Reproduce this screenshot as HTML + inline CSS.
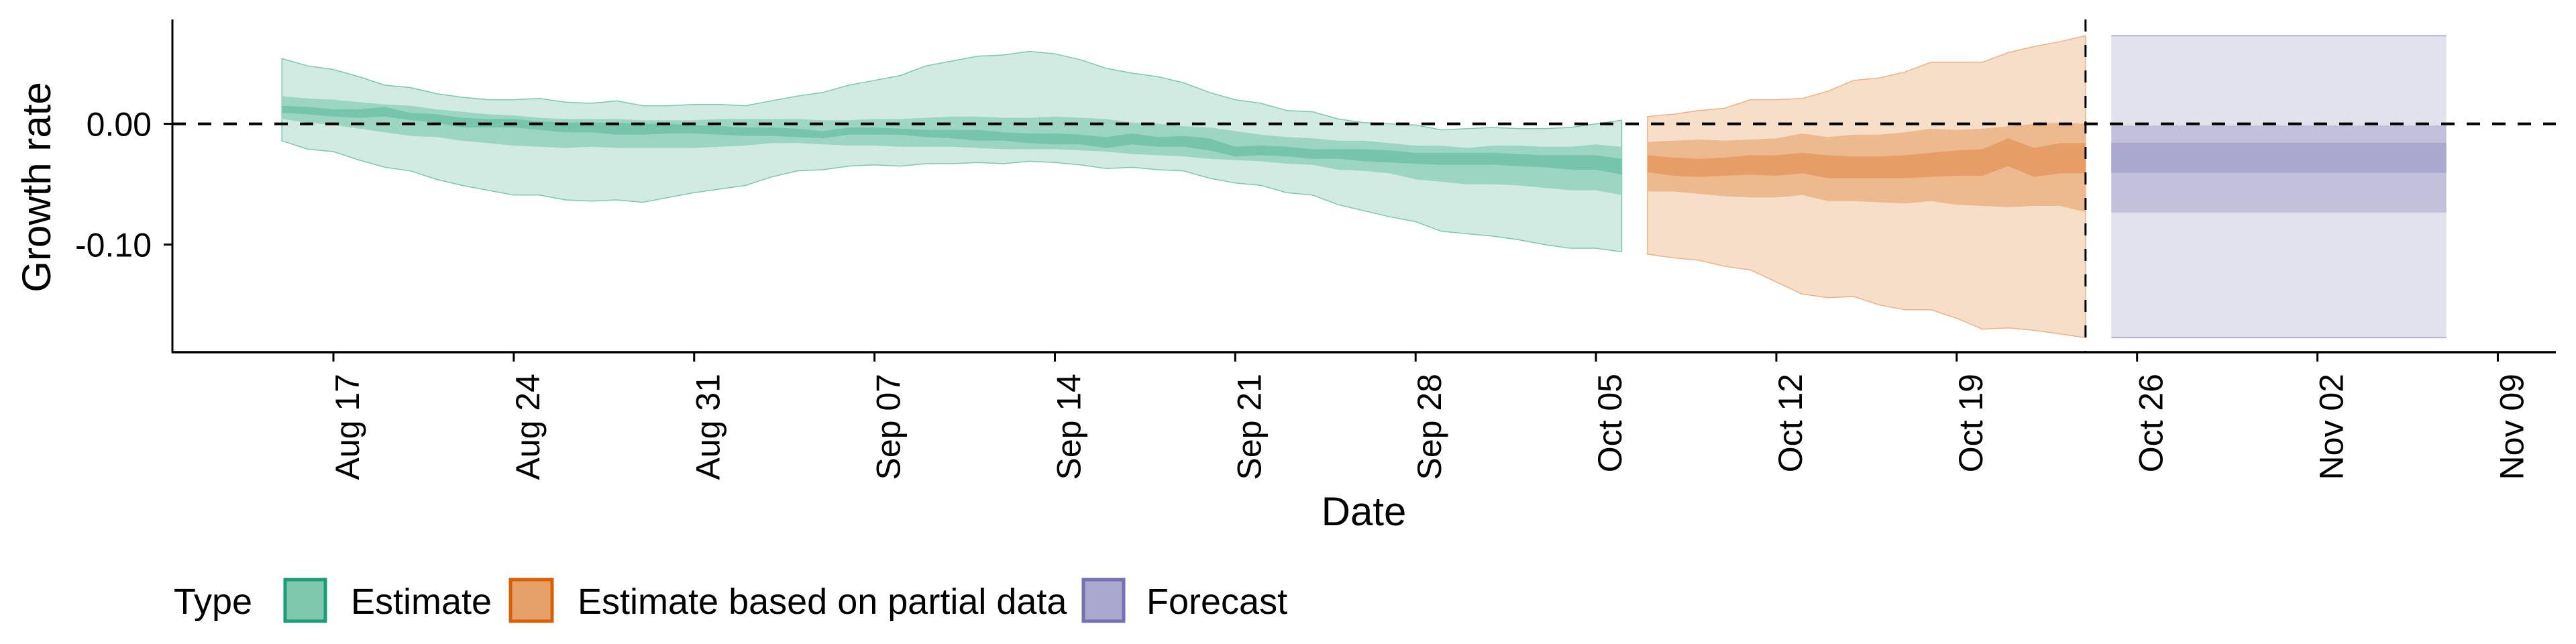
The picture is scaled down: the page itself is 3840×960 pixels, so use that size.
<!DOCTYPE html>
<html><head><meta charset="utf-8"><style>
html,body{margin:0;padding:0;background:#fff;}
svg{display:block;font-family:"Liberation Sans",Arial,sans-serif;}
</style></head><body>
<svg id="chart" width="3840" height="960" viewBox="0 0 3840 960" xmlns="http://www.w3.org/2000/svg">
<g id="bands"></g>
<g id="axes"></g>
</svg>
<script>
// Estimate (green): daily from Aug 15 to Oct 6
const estStart = "2020-08-15";
const estOuterHi = [0.054,0.048,0.045,0.039,0.032,0.030,0.025,0.022,0.020,0.020,0.021,0.018,0.017,0.019,0.015,0.015,0.016,0.016,0.015,0.019,0.023,0.026,0.032,0.036,0.040,0.048,0.052,
0.056,0.057,0.060,0.058,0.053,0.046,0.042,0.039,0.034,0.026,0.020,0.017,0.011,0.010,0.004,0.001,0.000,-0.001,-0.005,-0.004,-0.003,-0.004,-0.004,-0.003,0.000,0.003];
const estOuterLo = [-0.014,-0.021,-0.023,-0.030,-0.036,-0.039,-0.046,-0.051,-0.055,-0.059,-0.059,-0.063,-0.064,-0.063,-0.065,-0.061,-0.057,-0.054,-0.051,-0.044,-0.039,-0.038,-0.035,-0.034,-0.035,-0.033,-0.033,
-0.032,-0.033,-0.031,-0.032,-0.034,-0.037,-0.036,-0.038,-0.039,-0.045,-0.049,-0.051,-0.057,-0.059,-0.067,-0.072,-0.077,-0.081,-0.089,-0.091,-0.093,-0.096,-0.100,-0.103,-0.103,-0.106];
const estMidHi = [0.023,0.021,0.020,0.018,0.016,0.015,0.012,0.010,0.008,0.007,0.005,0.004,0.004,0.004,0.003,0.003,0.003,0.004,0.004,0.004,0.004,0.003,0.003,0.004,0.004,0.005,0.006,
0.006,0.005,0.005,0.006,0.005,0.004,0.001,0.000,-0.002,-0.003,-0.006,-0.009,-0.011,-0.012,-0.014,-0.014,-0.016,-0.018,-0.018,-0.020,-0.018,-0.018,-0.019,-0.019,-0.017,-0.019];
const estMidLo = [0.004,0.001,-0.001,-0.004,-0.007,-0.010,-0.011,-0.014,-0.016,-0.018,-0.019,-0.020,-0.019,-0.020,-0.020,-0.020,-0.020,-0.019,-0.018,-0.016,-0.016,-0.017,-0.018,-0.018,-0.019,-0.019,-0.019,
-0.020,-0.021,-0.021,-0.021,-0.022,-0.023,-0.025,-0.026,-0.027,-0.029,-0.030,-0.031,-0.033,-0.034,-0.038,-0.039,-0.041,-0.046,-0.048,-0.050,-0.050,-0.051,-0.053,-0.055,-0.055,-0.059];
const estInHi = [0.015,0.014,0.012,0.012,0.014,0.009,0.008,0.005,0.004,0.004,0.002,0.001,0.001,0.001,0.000,0.000,-0.001,-0.002,-0.003,-0.003,-0.004,-0.006,-0.003,-0.003,-0.004,-0.005,-0.005,
-0.005,-0.007,-0.008,-0.008,-0.009,-0.011,-0.008,-0.011,-0.010,-0.012,-0.019,-0.018,-0.019,-0.021,-0.021,-0.021,-0.022,-0.024,-0.024,-0.024,-0.024,-0.025,-0.026,-0.026,-0.026,-0.029];
const estInLo = [0.009,0.008,0.006,0.005,0.006,0.003,0.001,-0.003,-0.003,-0.003,-0.005,-0.007,-0.007,-0.009,-0.009,-0.008,-0.008,-0.009,-0.010,-0.010,-0.011,-0.012,-0.009,-0.009,-0.009,-0.011,-0.012,
-0.014,-0.014,-0.016,-0.017,-0.017,-0.020,-0.017,-0.019,-0.019,-0.022,-0.027,-0.026,-0.027,-0.029,-0.029,-0.031,-0.032,-0.033,-0.034,-0.034,-0.034,-0.035,-0.036,-0.038,-0.038,-0.042];
// Estimate based on partial data (orange): Oct 7 to Oct 24
const partStart = "2020-10-07";
const partOuterHi = [0.006,0.008,0.011,0.013,0.020,0.020,0.021,0.027,0.036,0.038,0.043,0.051,0.051,0.051,0.059,0.064,0.068,0.073];
const partOuterLo = [-0.108,-0.111,-0.113,-0.118,-0.121,-0.131,-0.141,-0.144,-0.143,-0.150,-0.154,-0.154,-0.161,-0.170,-0.169,-0.171,-0.174,-0.177];
const partMidHi = [-0.015,-0.014,-0.013,-0.014,-0.013,-0.012,-0.008,-0.011,-0.009,-0.009,-0.007,-0.004,-0.005,-0.004,-0.002,0.000,0.001,0.000];
const partMidLo = [-0.056,-0.056,-0.058,-0.060,-0.061,-0.061,-0.059,-0.064,-0.064,-0.065,-0.066,-0.064,-0.067,-0.068,-0.069,-0.068,-0.068,-0.073];
const partInHi = [-0.026,-0.028,-0.029,-0.028,-0.026,-0.026,-0.024,-0.026,-0.027,-0.027,-0.026,-0.024,-0.022,-0.021,-0.012,-0.020,-0.016,-0.016];
const partInLo = [-0.040,-0.043,-0.044,-0.043,-0.042,-0.043,-0.041,-0.045,-0.045,-0.045,-0.045,-0.044,-0.043,-0.043,-0.035,-0.044,-0.041,-0.041];
// Forecast (purple): Oct 25 to Nov 7
const fcStart = "2020-10-25";
const fcEnd = "2020-11-07";
const fcOuter = [-0.177, 0.073];
const fcMid = [-0.0735, -0.0014];
const fcInner = [-0.0405, -0.0157];
// Axes
const xTickLabels = ["Aug 17","Aug 24","Aug 31","Sep 07","Sep 14","Sep 21","Sep 28","Oct 05","Oct 12","Oct 19","Oct 26","Nov 02","Nov 09"];
const xTickDates = ["2020-08-17","2020-08-24","2020-08-31","2020-09-07","2020-09-14","2020-09-21","2020-09-28","2020-10-05","2020-10-12","2020-10-19","2020-10-26","2020-11-02","2020-11-09"];
const yTicks = [0.00, -0.10];
const yTickLabels = ["0.00","-0.10"];
const forecastDate = "2020-10-24";

const NS = "http://www.w3.org/2000/svg";
const DAY = 86400000;
const x0Date = Date.parse("2020-08-17"), x0Px = 497, pxPerDay = 38.41;
function xs(dateStr){ return x0Px + (Date.parse(dateStr) - x0Date)/DAY*pxPerDay; }
function xd(startStr, i){ return xs(startStr) + i*pxPerDay; }
function ys(v){ return 184.6 - v*1800; }
function mk(tag, attrs, parent){
  const e = document.createElementNS(NS, tag);
  for (const k in attrs) e.setAttribute(k, attrs[k]);
  parent.appendChild(e); return e;
}
const bands = document.getElementById("bands");
const axes = document.getElementById("axes");
function ribbon(start, lo, hi, fill, stroke, name){
  let d = "";
  for (let i=0;i<hi.length;i++) d += (i?"L":"M") + xd(start,i).toFixed(1) + "," + ys(hi[i]).toFixed(1);
  for (let i=lo.length-1;i>=0;i--) d += "L" + xd(start,i).toFixed(1) + "," + ys(lo[i]).toFixed(1);
  d += "Z";
  const p = mk("path", {d: d, fill: fill, stroke: stroke || "none", "stroke-width": stroke ? 1.5 : 0}, bands);
  
  
}
ribbon(estStart, estOuterLo, estOuterHi, "#d1ebe2", "#7cc8b0", "estimate-outer-band");
ribbon(estStart, estMidLo, estMidHi, "#9dd5c3", null, "estimate-mid-band");
ribbon(estStart, estInLo, estInHi, "#75c4ab", null, "estimate-inner-band");
ribbon(partStart, partOuterLo, partOuterHi, "#f6dec8", "#eeb28a", "partial-outer-band");
ribbon(partStart, partMidLo, partMidHi, "#edb98e", null, "partial-mid-band");
ribbon(partStart, partInLo, partInHi, "#e69d66", null, "partial-inner-band");
function rectBand(lohi, fill, stroke, name){
  const x1 = xs(fcStart), x2 = xs(fcEnd);
  const r = mk("rect", {x: x1, y: ys(lohi[1]), width: x2-x1, height: ys(lohi[0])-ys(lohi[1]), fill: fill}, bands);
  
  
  if (stroke){
    const a = mk("line", {x1:x1, x2:x2, y1:ys(lohi[1]), y2:ys(lohi[1]), stroke:stroke, "stroke-width":2}, bands);
    
    
    const b = mk("line", {x1:x1, x2:x2, y1:ys(lohi[0]), y2:ys(lohi[0]), stroke:stroke, "stroke-width":2}, bands);
    
    
  }
}
rectBand(fcOuter, "#e2e2ee", "#b4b2d8", "forecast-outer-band");
rectBand(fcMid, "#c3c0dc", null, "forecast-mid-band");
rectBand(fcInner, "#aaa8ce", null, "forecast-inner-band");

// zero line
const zl = mk("line", {x1:257, x2:3810, y1:ys(0), y2:ys(0), stroke:"#000", "stroke-width":4, "stroke-dasharray":"20 18"}, axes);


// forecast date line
const fx = xs(forecastDate);
const vl = mk("line", {x1:fx, x2:fx, y1:29, y2:525, stroke:"#000", "stroke-width":3, "stroke-dasharray":"18 20"}, axes);


// axis lines
const ya = mk("line", {x1:257, x2:257, y1:29, y2:526, stroke:"#000", "stroke-width":3}, axes);


const xa = mk("line", {x1:256, x2:3810, y1:525, y2:525, stroke:"#000", "stroke-width":3.5}, axes);


// y ticks
for (let i=0;i<yTicks.length;i++){
  const y = ys(yTicks[i]);
  const t = mk("line", {x1:244, x2:257, y1:y, y2:y, stroke:"#000", "stroke-width":3}, axes);
  
  
  const l = mk("text", {x:226, y:y+18, "text-anchor":"end", "font-size":50, fill:"#000"}, axes);
  l.textContent = yTickLabels[i];
  
  
}
// x ticks
for (let i=0;i<xTickDates.length;i++){
  const x = xs(xTickDates[i]);
  const t = mk("line", {x1:x, x2:x, y1:525, y2:539, stroke:"#000", "stroke-width":3}, axes);
  
  
  const lx = x + 38, ly = 557;
  const l = mk("text", {x:lx, y:ly, "text-anchor":"end", "font-size":50, fill:"#000", transform:"rotate(-90 "+lx+" "+ly+")"}, axes);
  l.textContent = xTickLabels[i];
  
  
}
</script>
<svg style="position:absolute;left:0;top:0" width="3840" height="960" xmlns="http://www.w3.org/2000/svg">
<text x="75" y="279" font-size="60" text-anchor="middle" transform="rotate(-90 75 279)" font-family="Liberation Sans, sans-serif">Growth rate</text>
<text x="2033" y="783" font-size="60" text-anchor="middle" font-family="Liberation Sans, sans-serif">Date</text>
<g font-family="Liberation Sans, sans-serif" font-size="54">
<text x="259" y="915">Type</text>
<rect x="425" y="864" width="60" height="62" fill="#7fc8ae" stroke="#1b9e77" stroke-width="5"/>
<text x="523" y="915">Estimate</text>
<rect x="761" y="864" width="62" height="62" fill="#e6a06a" stroke="#d95f02" stroke-width="5"/>
<text x="861" y="915">Estimate based on partial data</text>
<rect x="1615" y="864" width="60" height="62" fill="#aaa8cf" stroke="#7570b3" stroke-width="5"/>
<text x="1709" y="915">Forecast</text>
</g>
</svg>
</body></html>
